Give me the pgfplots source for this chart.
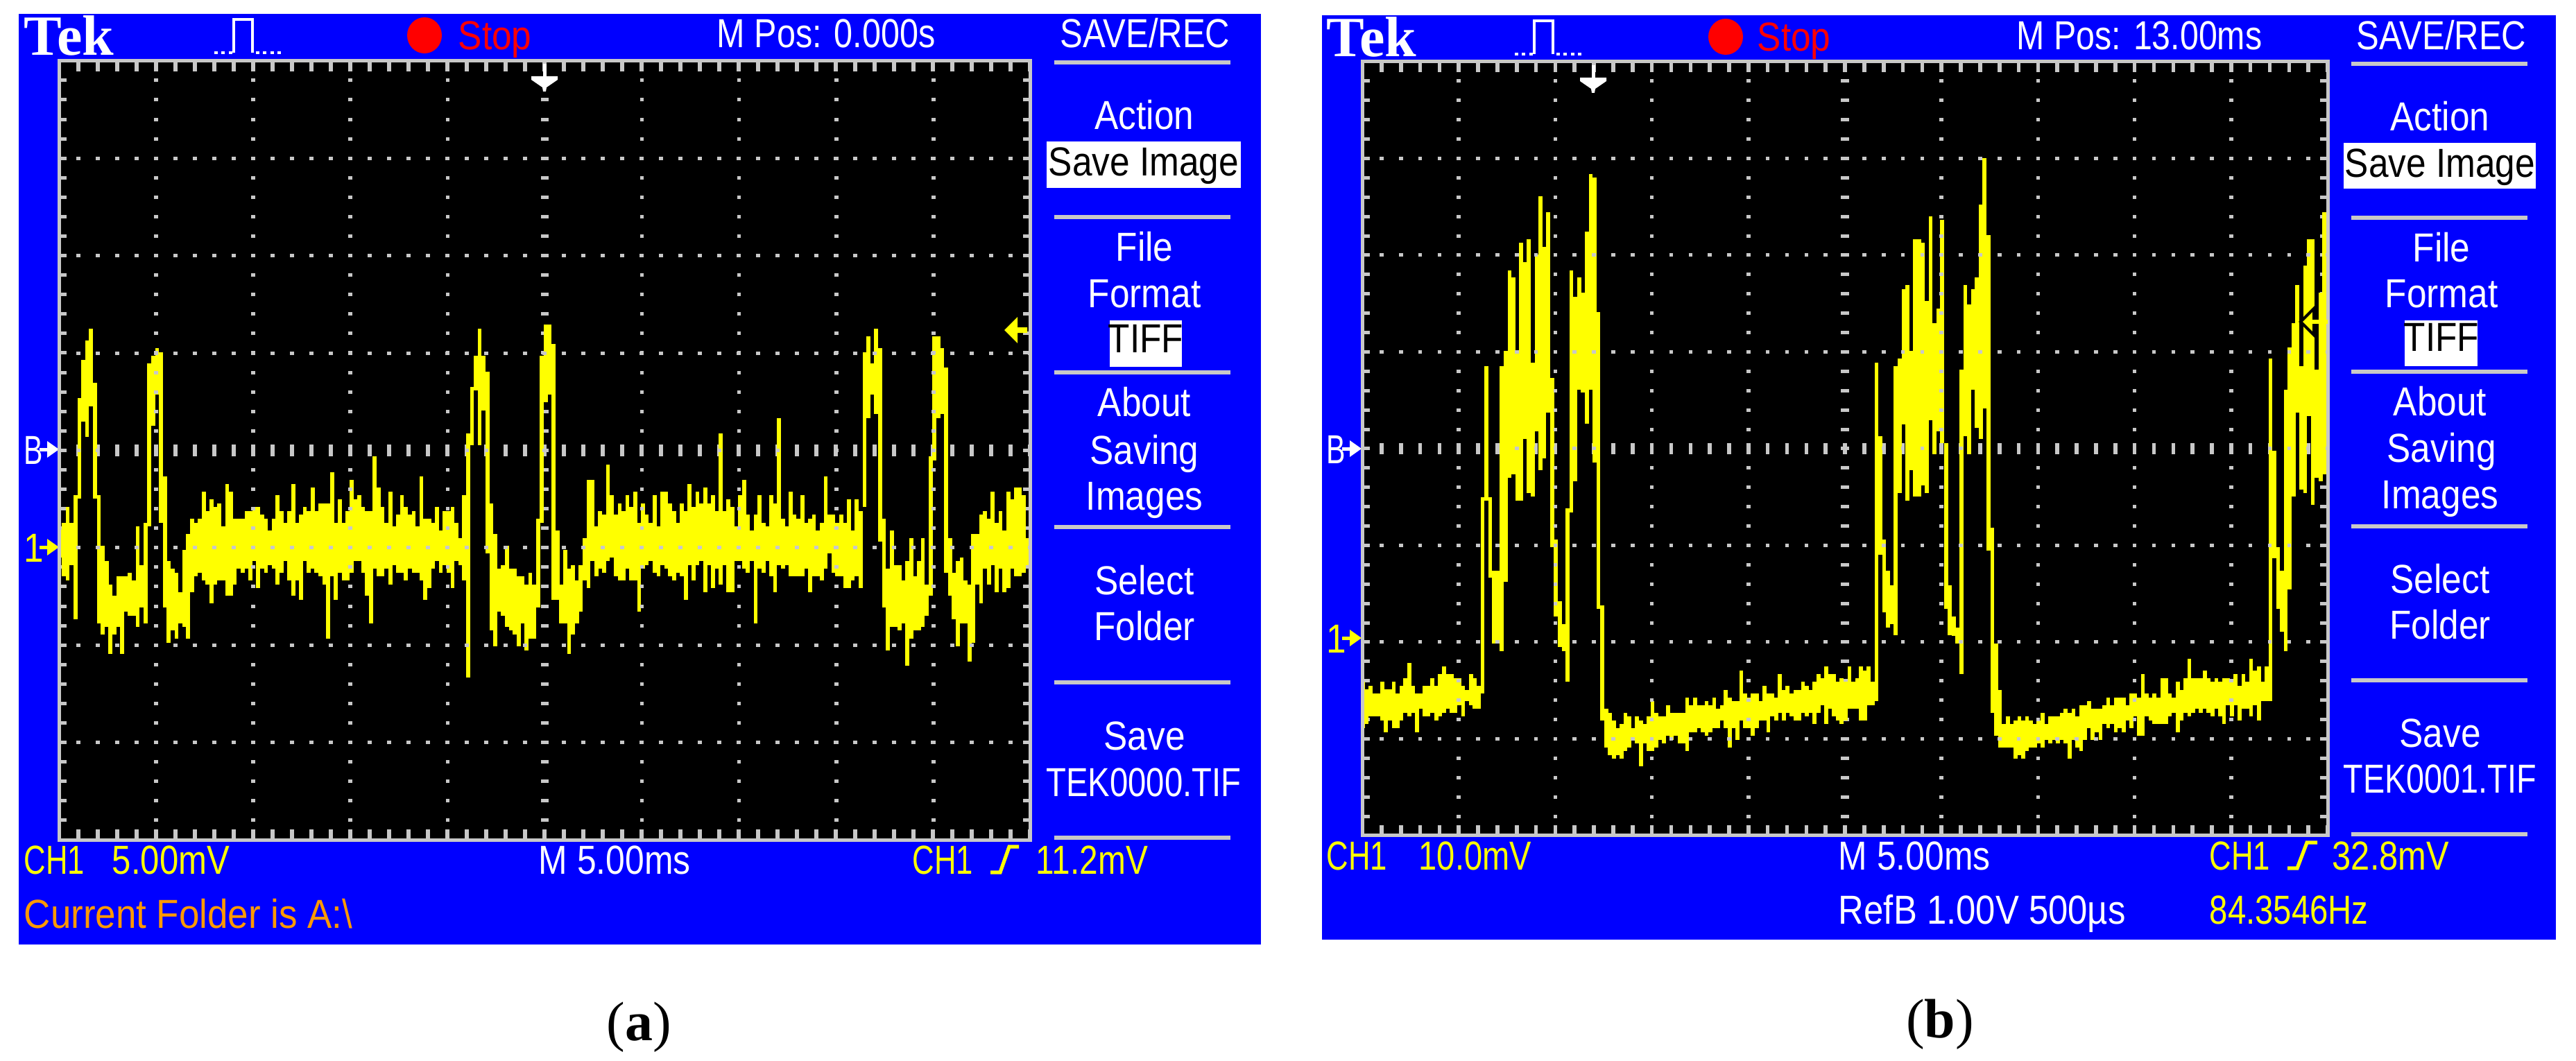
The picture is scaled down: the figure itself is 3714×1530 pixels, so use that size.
\documentclass[border=0pt]{standalone}
\usepackage{fontspec}
\usepackage{graphicx}
\usepackage{pgfplots}
\usepackage{pgfplotstable}
\pgfplotsset{compat=1.18}
\setmainfont{Liberation Sans}[FakeStretch=0.88]
\newfontfamily\tekfont{Liberation Serif}
\definecolor{scopeblue}{RGB}{0,0,255}
\definecolor{scopeyellow}{RGB}{255,255,0}
\definecolor{scopegray}{RGB}{200,200,200}
\definecolor{scopeorange}{RGB}{255,153,0}
\definecolor{scopered}{RGB}{255,0,0}
\pgfplotstableread{
t hi lo
0.05 0.91 -0.51
0.25 1.29 -1.48
0.45 2.08 -1.67
0.65 1.29 -0.89
0.85 2.69 -3.66
1.05 7.68 2.52
1.25 9.66 6.47
1.45 10.65 5.69
1.65 11.24 7.26
1.85 8.47 2.52
2.05 2.69 -3.87
2.25 0.11 -4.46
2.45 -0.69 -4.07
2.65 -1.88 -5.46
2.85 -2.47 -4.46
3.05 -1.48 -4.07
3.25 -1.48 -5.46
3.45 -1.48 -3.28
3.65 -1.28 -3.48
3.85 -1.67 -3.48
4.05 1.09 -4.07
4.25 -0.89 -3.07
4.45 1.29 -3.87
4.65 9.46 1.09
4.85 9.85 6.28
5.05 10.26 7.86
5.25 10.05 1.29
5.45 3.68 -3.07
5.65 -0.69 -4.87
5.85 -1.08 -4.26
6.05 -1.28 -4.67
6.25 -2.29 -3.87
6.45 -0.10 -4.07
6.65 0.70 -4.67
6.85 1.48 -2.29
7.05 1.29 -1.48
7.25 1.48 -1.28
7.45 2.88 -1.67
7.65 1.89 -1.88
7.85 2.49 -2.87
8.05 2.08 -1.88
8.25 2.28 -1.67
8.45 1.09 -1.67
8.65 3.29 -2.47
8.85 2.88 -2.47
9.05 1.48 -1.88
9.25 1.48 -1.08
9.45 1.48 -1.28
9.65 1.89 -1.08
9.85 1.89 -1.67
10.05 2.08 -0.69
10.25 2.08 -2.08
10.45 1.69 -1.08
10.65 1.48 -1.28
10.85 0.89 -0.89
11.05 1.48 -1.08
11.25 2.69 -1.88
11.45 1.89 -1.28
11.65 1.29 -0.69
11.85 1.89 -1.67
12.05 3.29 -2.47
12.25 1.29 -1.67
12.45 1.69 -2.68
12.65 2.08 -0.69
12.85 1.89 -1.28
13.05 3.09 -1.08
13.25 1.89 -1.28
13.45 2.28 -1.48
13.65 2.28 -1.88
13.85 2.28 -4.67
14.05 3.88 -1.48
14.25 1.29 -2.68
14.45 2.49 -1.28
14.65 1.29 -1.67
14.85 1.89 -1.67
15.05 3.49 -1.28
15.25 2.49 -0.69
15.45 2.69 -0.69
15.65 2.08 -1.28
15.85 1.89 -2.47
16.05 1.89 -3.87
16.25 4.68 -1.08
16.45 3.09 -1.48
16.65 2.08 -1.48
16.85 1.29 -1.08
17.05 2.88 -1.88
17.25 1.09 -0.89
17.45 1.69 -1.28
17.65 2.69 -1.28
17.85 2.08 -1.67
18.05 1.69 -1.08
18.25 1.89 -1.28
18.45 1.09 -1.28
18.65 3.68 -1.67
18.85 1.48 -2.68
19.05 1.48 -2.08
19.25 1.29 -1.08
19.45 2.08 -0.69
19.65 0.89 -1.28
19.85 1.89 -0.89
20.05 1.89 -1.28
20.25 2.08 -2.08
20.45 1.29 -0.69
20.65 0.50 -0.89
20.85 2.69 -1.67
21.05 5.88 -6.66
21.25 8.27 5.28
21.45 9.85 8.07
21.65 11.24 5.28
21.85 9.85 7.06
22.05 9.05 -0.30
22.25 2.28 -4.26
22.45 0.70 -5.07
22.65 -1.08 -3.28
22.85 -0.89 -3.48
23.05 0.11 -4.07
23.25 -1.08 -4.26
23.45 -1.08 -4.46
23.65 -1.48 -5.07
23.85 -1.48 -3.87
24.05 -1.88 -5.26
24.25 -1.28 -4.67
24.45 -1.88 -4.67
24.65 1.48 -3.07
24.85 9.85 1.29
25.05 11.47 7.48
25.25 11.47 7.88
25.45 10.46 -2.68
25.65 0.89 -2.68
25.85 -1.88 -3.87
26.05 -0.10 -3.87
26.25 -1.08 -5.46
26.45 -0.89 -4.46
26.65 -1.67 -3.87
26.85 -0.89 -3.28
27.05 0.50 -1.67
27.25 3.49 -2.08
27.45 3.49 -0.69
27.65 1.09 -1.48
27.85 1.89 -1.08
28.05 1.69 -1.28
28.25 4.27 -0.69
28.45 2.69 -0.49
28.65 1.69 -1.48
28.85 2.28 -1.67
29.05 1.89 -1.67
29.25 2.69 -1.08
29.45 2.08 -1.67
29.65 2.88 -1.67
29.85 1.29 -3.28
30.05 2.28 -1.08
30.25 1.69 -0.89
30.45 1.29 -0.69
30.65 2.69 -1.28
30.85 1.09 -1.48
31.05 2.88 -0.89
31.25 2.88 -1.08
31.45 2.28 -1.48
31.65 1.89 -1.67
31.85 1.29 -1.28
32.05 2.28 -1.48
32.25 1.89 -2.68
32.45 3.29 -0.89
32.65 2.08 -1.67
32.85 2.88 -0.89
33.05 2.28 -0.69
33.25 3.09 -2.28
33.45 2.28 -0.89
33.65 2.69 -2.08
33.85 1.89 -1.08
34.05 5.88 -1.88
34.25 1.89 -0.89
34.45 2.49 -2.28
34.65 2.08 -2.28
34.85 1.09 -0.69
35.05 2.69 -0.69
35.25 3.49 -1.08
35.45 1.69 -1.28
35.65 0.89 -0.69
35.85 1.69 -3.87
36.05 2.69 -1.08
36.25 1.29 -1.28
36.45 1.09 -0.69
36.65 2.69 -1.48
36.85 2.28 -2.28
37.05 6.67 -0.89
37.25 1.48 -1.08
37.45 1.09 -0.89
37.65 2.88 -1.48
37.85 1.69 -1.48
38.05 1.48 -1.48
38.25 2.69 -1.48
38.45 1.29 -1.08
38.65 1.48 -2.28
38.85 1.69 -1.48
39.05 0.89 -1.48
39.25 1.29 -1.67
39.45 3.68 -1.08
39.65 1.69 -0.30
39.85 1.69 -1.28
40.05 1.29 -1.48
40.25 1.69 -1.48
40.45 1.29 -2.08
40.65 2.49 -2.08
40.85 0.89 -1.67
41.05 2.49 -1.48
41.25 1.89 -2.08
41.45 10.05 2.08
41.65 10.85 6.67
41.85 9.46 7.86
42.05 11.24 6.87
42.25 10.26 0.30
42.45 1.48 -3.07
42.65 -1.08 -5.26
42.85 0.89 -4.07
43.05 -0.89 -4.07
43.25 -0.89 -4.26
43.45 -1.67 -3.87
43.65 -0.69 -6.05
43.85 0.50 -4.67
44.05 -1.48 -4.26
44.25 -0.69 -4.26
44.45 0.50 -4.07
44.65 -1.88 -3.48
44.85 4.68 -2.47
45.05 10.85 4.47
45.25 10.85 6.67
45.45 10.26 6.87
45.65 9.25 -1.28
45.85 0.50 -2.47
46.05 -1.28 -3.66
46.25 -0.69 -5.07
46.45 -0.49 -3.87
46.65 -1.67 -3.87
46.85 -1.88 -5.85
47.05 0.70 -4.87
47.25 0.70 -1.88
47.45 1.69 -2.87
47.65 1.89 -1.08
47.85 1.48 -1.88
48.05 2.88 -0.89
48.25 1.29 -2.28
48.45 1.89 -1.08
48.65 0.89 -2.28
48.85 2.88 -2.08
49.05 2.49 -1.08
49.25 3.09 -1.48
49.45 3.09 -1.48
49.65 2.69 -1.28
49.85 0.50 -0.89
}\traceA
\pgfplotstableread{
t hi lo
0.03 -4.11 -8.89
0.23 -4.90 -8.46
0.43 -4.54 -7.70
0.63 -5.31 -7.70
0.83 -5.31 -7.70
1.03 -4.11 -8.08
1.23 -4.90 -9.30
1.43 -4.90 -8.08
1.63 -4.11 -8.89
1.83 -5.31 -8.89
2.03 -4.54 -8.08
2.23 -3.73 -7.32
2.43 -2.15 -7.70
2.63 -4.54 -7.32
2.83 -5.31 -9.30
3.03 -5.31 -6.91
3.23 -4.54 -7.70
3.43 -4.54 -7.70
3.63 -3.73 -7.32
3.83 -4.54 -8.08
4.03 -3.33 -7.70
4.23 -2.54 -7.32
4.43 -3.33 -6.91
4.63 -3.33 -7.32
4.83 -3.73 -7.32
5.03 -3.73 -6.50
5.23 -4.54 -7.70
5.43 -4.93 -6.10
5.63 -3.33 -6.50
5.83 -3.73 -6.91
6.03 -4.54 -6.91
6.23 15.00 -5.31
6.43 28.52 14.60
6.63 15.00 6.66
6.83 7.40 -0.12
7.03 7.40 -0.12
7.23 28.52 -0.94
7.43 30.12 6.25
7.63 38.44 17.00
7.83 37.70 17.38
8.03 30.12 14.60
8.23 41.26 14.60
8.43 39.30 20.97
8.63 41.64 15.40
8.83 28.90 15.02
9.03 40.04 21.80
9.23 46.06 17.80
9.43 40.87 18.98
9.63 44.42 23.72
9.83 27.30 9.83
10.03 10.60 2.66
10.23 4.20 -0.53
10.43 1.86 -0.94
10.63 13.80 -4.11
10.83 38.44 13.42
11.03 35.72 16.62
11.23 37.70 26.12
11.43 36.10 25.77
11.63 42.47 22.57
11.83 48.42 26.12
12.03 48.04 18.60
12.23 34.12 3.46
12.43 3.82 -8.08
12.63 -6.91 -10.88
12.83 -7.32 -11.69
13.03 -8.08 -12.07
13.23 -8.89 -11.69
13.43 -8.49 -12.07
13.63 -7.32 -11.28
13.83 -7.70 -10.88
14.03 -8.89 -10.09
14.23 -7.70 -10.47
14.43 -8.08 -12.86
14.63 -8.49 -10.47
14.83 -7.70 -11.28
15.03 -6.10 -11.28
15.23 -7.32 -10.88
15.43 -7.70 -10.09
15.63 -7.70 -10.47
15.83 -6.50 -9.70
16.03 -7.32 -10.09
16.23 -7.32 -9.70
16.43 -7.32 -10.47
16.63 -7.32 -10.47
16.83 -5.71 -11.28
17.03 -6.50 -9.30
17.23 -5.71 -9.30
17.43 -6.50 -8.89
17.63 -6.50 -9.30
17.83 -6.10 -9.70
18.03 -6.50 -9.30
18.23 -5.71 -8.89
18.43 -6.91 -8.89
18.63 -6.50 -8.10
18.83 -4.93 -8.89
19.03 -5.71 -10.88
19.23 -6.10 -8.89
19.43 -6.10 -10.09
19.63 -2.94 -8.10
19.83 -5.31 -8.89
20.03 -5.71 -8.89
20.23 -5.31 -9.70
20.43 -5.31 -8.89
20.63 -6.12 -8.10
20.83 -4.52 -8.10
21.03 -5.31 -9.30
21.23 -5.31 -7.70
21.43 -5.71 -8.10
21.63 -3.33 -7.32
21.83 -4.93 -8.10
22.03 -4.52 -7.32
22.23 -5.31 -7.70
22.43 -4.93 -8.10
22.63 -4.93 -8.10
22.83 -4.11 -7.32
23.03 -4.52 -7.70
23.23 -4.93 -7.32
23.43 -4.11 -8.49
23.63 -3.33 -7.32
23.83 -3.73 -6.50
24.03 -2.54 -8.49
24.23 -3.33 -6.91
24.43 -3.33 -7.70
24.63 -4.11 -8.10
24.83 -3.73 -8.49
25.03 -4.11 -8.10
25.23 -2.54 -6.91
25.43 -4.11 -6.91
25.63 -3.73 -6.91
25.83 -2.54 -8.10
26.03 -2.94 -8.10
26.23 -2.54 -6.50
26.43 -4.11 -6.50
26.63 28.90 -6.10
26.83 21.32 9.06
27.03 10.60 3.08
27.23 7.40 1.48
27.43 5.86 1.86
27.63 28.52 0.68
27.83 29.32 15.40
28.03 36.52 22.50
28.23 36.90 14.60
28.43 30.12 17.77
28.63 41.64 15.02
28.83 41.64 15.02
29.03 41.26 16.20
29.23 35.30 15.40
29.43 44.04 22.92
29.63 32.94 19.40
29.83 34.50 21.80
30.03 43.66 20.58
30.23 20.58 3.46
30.43 5.86 0.68
30.63 2.66 0.67
30.83 1.48 -0.12
31.03 28.14 -3.33
31.23 36.90 21.32
31.43 34.92 19.40
31.63 36.52 26.12
31.83 37.70 22.18
32.03 45.26 21.00
32.23 50.02 24.14
32.43 42.06 9.45
32.63 11.82 -7.29
32.83 -0.12 -9.68
33.03 -4.93 -10.88
33.23 -8.49 -10.88
33.43 -7.70 -10.88
33.63 -8.49 -10.88
33.83 -8.10 -12.07
34.03 -7.70 -11.69
34.23 -8.10 -12.07
34.43 -7.70 -11.28
34.63 -8.10 -10.88
34.83 -8.49 -10.88
35.03 -8.10 -10.47
35.23 -7.32 -10.88
35.43 -8.49 -10.09
35.63 -7.70 -10.47
35.83 -7.70 -10.09
36.03 -7.70 -10.47
36.23 -7.32 -10.09
36.43 -6.91 -10.47
36.63 -7.32 -12.07
36.83 -6.91 -10.09
37.03 -7.70 -10.88
37.23 -6.50 -11.28
37.43 -6.50 -10.09
37.63 -6.12 -8.89
37.83 -6.91 -10.09
38.03 -6.91 -9.30
38.23 -6.91 -10.09
38.43 -6.50 -8.49
38.63 -5.71 -8.89
38.83 -6.50 -8.49
39.03 -5.71 -9.30
39.23 -5.71 -8.89
39.43 -5.71 -9.30
39.63 -6.50 -8.10
39.83 -5.31 -8.89
40.03 -5.31 -7.70
40.23 -5.71 -9.70
40.43 -3.33 -9.70
40.63 -5.31 -7.70
40.83 -5.71 -8.10
41.03 -5.31 -8.49
41.23 -5.71 -8.49
41.43 -3.73 -8.49
41.63 -3.73 -8.49
41.83 -5.31 -7.70
42.03 -5.71 -7.32
42.23 -4.11 -9.30
42.43 -4.93 -8.10
42.63 -3.73 -7.32
42.83 -1.72 -7.70
43.03 -3.73 -7.32
43.23 -3.73 -6.91
43.43 -3.73 -7.32
43.63 -2.94 -6.91
43.83 -3.73 -7.32
44.03 -4.11 -7.70
44.23 -3.73 -6.91
44.43 -4.11 -7.70
44.63 -3.73 -8.49
44.83 -3.73 -6.50
45.03 -4.11 -7.70
45.23 -3.33 -6.50
45.43 -4.52 -8.10
45.63 -3.33 -6.91
45.83 -4.11 -6.91
46.03 -1.72 -7.70
46.23 -2.94 -6.50
46.43 -2.54 -8.10
46.63 -4.11 -6.10
46.83 -2.54 -6.10
47.03 29.32 -6.10
47.23 19.78 8.65
47.43 9.80 3.46
47.63 7.40 1.06
47.83 26.12 -0.94
48.03 30.50 5.45
48.23 32.94 15.02
48.43 36.90 23.72
48.63 28.52 15.78
48.83 38.89 15.40
49.03 41.64 23.34
49.23 41.64 14.22
49.43 28.20 17.00
49.63 36.10 16.62
49.83 44.42 17.38
}\traceB
\pgfplotsset{
  scopeaxis/.style={scale only axis,anchor=north west,xmin=0,xmax=50,
    xtick=\empty,ytick=\empty,axis on top,
    axis background/.style={fill=black},
    axis line style={draw=scopegray,line width=1.25pt}},
  trace/.style={draw=none,mark=none,forget plot,
    error bars/.cd,y dir=minus,y explicit,error mark=none,
    error bar style={draw=scopeyellow,line width=1.43pt,solid}},
}
\newcommand\scopefont{\fontsize{14.6}{16}\selectfont}
\newcommand\Sx[2]{\scalebox{#1}[1]{#2}}
\newcommand\TL[4]{\node[anchor=base west,inner sep=0pt,text=#3,font=\scopefont] at (#1,{#2+21}) {#4};}
\newcommand\TC[4]{\node[anchor=base,inner sep=0pt,text=#3,font=\scopefont] at (#1,{#2+21}) {#4};}
\newcommand\Tek[2]{\node[anchor=base west,inner sep=0pt,text=white,font=\tekfont\bfseries\fontsize{20.5}{22}\selectfont] at (#1,#2) {Tek};}
\newcommand\Pulse[2]{\draw[white,line width=1.1pt] (#1+28,#2) -- ++(0,-48) -- ++(27,0) -- ++(0,48);
  \draw[white,line width=1.1pt,dash pattern=on 1.2pt off 1.4pt] (#1,#2) -- ++(26,0);
  \draw[white,line width=1.1pt,dash pattern=on 1.2pt off 1.4pt] (#1+60,#2) -- ++(36,0);}
\newcommand\Mark[3]{\fill[#3] (#1+23,#2-2.5) rectangle (#1+38,#2+2.5);
  \fill[#3] (#1+51,#2) -- (#1+34,#2-12) -- (#1+34,#2+12) -- cycle;}
\newcommand\Rule[2]{\fill[scopegray] (#1,#2-3) rectangle ++(254,6);}
\newcommand\TrigPos[2]{\fill[white] (#1-2.5,#2) rectangle (#1+2.5,#2+20);
  \fill[white] (#1-19,#2+18) -- (#1+19,#2+18) -- (#1+19,#2+23) -- (#1+3,#2+34) -- (#1+2,#2+40) -- (#1-2,#2+40) -- (#1-3,#2+34) -- (#1-19,#2+23) -- cycle;}
\begin{document}
\begin{tikzpicture}
\begin{scope}[x=.25pt,y=-.25pt]
\fill[white] (0,0) rectangle (3714,1530);
\path[use as bounding box] (0,0) rectangle (3714,1530);
\fill[scopeblue] (27,20) rectangle (1818,1362);
\fill[scopeblue] (1906,22) rectangle (3685,1355);
% panel (a) chrome
\Tek{34}{80}
\Pulse{309}{76}
\fill[scopered] (612,51) ellipse (25 and 26);
\TL{660}{51}{scopered}{Stop}
\TL{1033}{48}{white}{\Sx{.945}{M Pos: 0.000s}}
\TC{1651}{48}{white}{\Sx{.955}{SAVE/REC}}
\Rule{1520}{90}\Rule{1520}{313}\Rule{1520}{537}\Rule{1520}{760}\Rule{1520}{984}\Rule{1520}{1208}
\TC{1650}{166}{white}{Action}
\fill[white] (1509,204) rectangle (1789,271);
\TC{1649}{232}{black}{Save Image}
\TC{1650}{355}{white}{File}
\TC{1650}{422}{white}{Format}
\fill[white] (1600,462) rectangle (1704,529);
\TC{1652}{487}{black}{TIFF}
\TC{1650}{579}{white}{About}
\TC{1650}{648}{white}{Saving}
\TC{1650}{714}{white}{Images}
\TC{1650}{836}{white}{Select}
\TC{1650}{902}{white}{Folder}
\TC{1650}{1060}{white}{Save}
\TC{1649}{1127}{white}{\Sx{.92}{TEK0000.TIF}}
\TL{34}{648}{white}{\Sx{.8}{B}}
\Mark{34}{648}{white}
\TL{34}{789}{scopeyellow}{1}
\Mark{34}{789}{scopeyellow}
\TL{34}{1239}{scopeyellow}{\Sx{.85}{CH1}}
\TL{161}{1239}{scopeyellow}{\Sx{.955}{5.00mV}}
\TL{776}{1239}{white}{\Sx{.97}{M 5.00ms}}
\TL{1315}{1239}{scopeyellow}{\Sx{.85}{CH1}}
\draw[scopeyellow,line width=1.3pt] (1428,1258) -- (1442,1258) -- (1455,1221) -- (1469,1221);
\TL{1493}{1239}{scopeyellow}{\Sx{.93}{11.2mV}}
\TL{34}{1317}{scopeorange}{\Sx{1.03}{Current Folder is A:\textbackslash}}
\node[anchor=base,inner sep=0pt,font=\tekfont\fontsize{20}{22}\selectfont] at (921,1500) {(\textbf{a})};
% panel (b) chrome
\Tek{1912}{82}
\Pulse{2184}{78}
\fill[scopered] (2488,53) ellipse (25 and 26);
\TL{2533}{53}{scopered}{Stop}
\TL{2907}{51}{white}{\Sx{.94}{M Pos: 13.00ms}}
\TC{3520}{51}{white}{\Sx{.955}{SAVE/REC}}
\Rule{3390}{92}\Rule{3390}{314}\Rule{3390}{536}\Rule{3390}{759}\Rule{3390}{981}\Rule{3390}{1203}
\TC{3518}{168}{white}{Action}
\fill[white] (3379,206) rectangle (3656,272);
\TC{3518}{234}{black}{Save Image}
\TC{3520}{356}{white}{File}
\TC{3520}{422}{white}{Format}
\fill[white] (3467,462) rectangle (3572,528);
\TC{3520}{485}{black}{TIFF}
\TC{3518}{578}{white}{About}
\TC{3520}{645}{white}{Saving}
\TC{3518}{712}{white}{Images}
\TC{3518}{834}{white}{Select}
\TC{3518}{900}{white}{Folder}
\TC{3518}{1056}{white}{Save}
\TC{3518}{1122}{white}{\Sx{.91}{TEK0001.TIF}}
\TL{1912}{647}{white}{\Sx{.8}{B}}
\Mark{1912}{647}{white}
\TL{1912}{920}{scopeyellow}{1}
\Mark{1912}{920}{scopeyellow}
\TL{1912}{1233}{scopeyellow}{\Sx{.85}{CH1}}
\TL{2045}{1233}{scopeyellow}{\Sx{.915}{10.0mV}}
\TL{2650}{1233}{white}{\Sx{.97}{M 5.00ms}}
\TL{3185}{1233}{scopeyellow}{\Sx{.85}{CH1}}
\draw[scopeyellow,line width=1.3pt] (3298,1252) -- (3312,1252) -- (3326,1215) -- (3341,1215);
\TL{3362}{1233}{scopeyellow}{\Sx{.95}{32.8mV}}
\TL{2650}{1311}{white}{\Sx{.99}{RefB 1.00V 500µs}}
\TL{3185}{1311}{scopeyellow}{\Sx{.92}{84.3546Hz}}
\node[anchor=base,inner sep=0pt,font=\tekfont\fontsize{20}{22}\selectfont] at (2797,1496) {(\textbf{b})};
\end{scope}
% ---------- screen (a)
\begin{axis}[scopeaxis,at={(21.25pt,-22pt)},width=350.25pt,height=280.75pt,ymin=-15,ymax=25]
\draw[scopegray,line width=2.8pt,dash pattern=on 1.25pt off 5.77pt,dash phase=.625pt] (axis cs:25,-15) -- (axis cs:25,25);
\draw[scopegray,line width=4.2pt,dash pattern=on 1.4pt off 5.6pt,dash phase=.7pt] (axis cs:0,5) -- (axis cs:50,5);
\draw[scopegray,line width=5.6pt,dash pattern=on 1.25pt off 5.77pt,dash phase=.625pt] (axis cs:0,-15) -- (axis cs:0,25);
\draw[scopegray,line width=5.6pt,dash pattern=on 1.25pt off 5.77pt,dash phase=.625pt] (axis cs:50,-15) -- (axis cs:50,25);
\draw[scopegray,line width=7.5pt,dash pattern=on 1.4pt off 5.6pt,dash phase=.7pt] (axis cs:0,25) -- (axis cs:50,25);
\draw[scopegray,line width=7.5pt,dash pattern=on 1.4pt off 5.6pt,dash phase=.7pt] (axis cs:0,-15) -- (axis cs:50,-15);
\addplot[trace] table[x=t,y=hi,y error minus expr=\thisrow{hi}-\thisrow{lo},y error plus expr=0] {\traceA};
\pgfplotsinvokeforeach{5,10,15,20,30,35,40,45}{
  \draw[scopegray,line width=1.4pt,dash pattern=on 1.25pt off 5.77pt,dash phase=.625pt] (axis cs:#1,-15) -- (axis cs:#1,25);}
\pgfplotsinvokeforeach{-10,-5,0,5,10,15,20}{
  \draw[scopegray,line width=1.25pt,dash pattern=on 1.4pt off 5.6pt,dash phase=.7pt] (axis cs:0,#1) -- (axis cs:50,#1);}
\end{axis}
% ---------- screen (b)
\begin{axis}[scopeaxis,at={(491pt,-22.25pt)},width=348pt,height=279pt,ymin=-20,ymax=60]
\draw[scopegray,line width=2.8pt,dash pattern=on 1.25pt off 5.725pt,dash phase=.625pt] (axis cs:25,-20) -- (axis cs:25,60);
\draw[scopegray,line width=4.2pt,dash pattern=on 1.4pt off 5.56pt,dash phase=.7pt] (axis cs:0,20) -- (axis cs:50,20);
\draw[scopegray,line width=5.6pt,dash pattern=on 1.25pt off 5.725pt,dash phase=.625pt] (axis cs:0,-20) -- (axis cs:0,60);
\draw[scopegray,line width=5.6pt,dash pattern=on 1.25pt off 5.725pt,dash phase=.625pt] (axis cs:50,-20) -- (axis cs:50,60);
\draw[scopegray,line width=7.5pt,dash pattern=on 1.4pt off 5.56pt,dash phase=.7pt] (axis cs:0,60) -- (axis cs:50,60);
\draw[scopegray,line width=7.5pt,dash pattern=on 1.4pt off 5.56pt,dash phase=.7pt] (axis cs:0,-20) -- (axis cs:50,-20);
\addplot[trace] table[x=t,y=hi,y error minus expr=\thisrow{hi}-\thisrow{lo},y error plus expr=0] {\traceB};
\pgfplotsinvokeforeach{5,10,15,20,30,35,40,45}{
  \draw[scopegray,line width=1.4pt,dash pattern=on 1.25pt off 5.725pt,dash phase=.625pt] (axis cs:#1,-20) -- (axis cs:#1,60);}
\pgfplotsinvokeforeach{-10,0,10,20,30,40,50}{
  \draw[scopegray,line width=1.25pt,dash pattern=on 1.4pt off 5.56pt,dash phase=.7pt] (axis cs:0,#1) -- (axis cs:50,#1);}
\end{axis}
% ---------- markers over the screens
\begin{scope}[x=.25pt,y=-.25pt]
\TrigPos{785}{92}
\TrigPos{2297}{94}
\fill[scopeyellow] (1448,476) -- (1467,457) -- (1467,472) -- (1481,472) -- (1481,480) -- (1467,480) -- (1467,495) -- cycle;
\draw[black,line width=1pt,fill=scopeyellow] (3317,464) -- (3336,445) -- (3336,483) -- cycle;
\fill[scopeyellow] (3334,461) rectangle (3356,467);
\end{scope}
\end{tikzpicture}
\end{document}
